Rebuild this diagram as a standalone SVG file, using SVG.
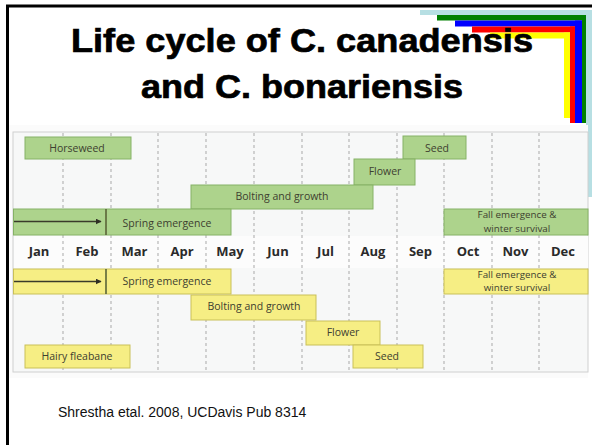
<svg xmlns="http://www.w3.org/2000/svg" width="592" height="445" viewBox="0 0 592 445">
<defs>
<style>
.title{font-family:"Liberation Sans",Arial,sans-serif;font-weight:bold;font-size:33px;fill:#000;stroke:#000;stroke-width:0.7;text-anchor:middle}
.mon{font-family:"Open Sans","Noto Sans",sans-serif;font-weight:bold;font-size:13px;fill:#2a2a2a;text-anchor:middle}
.lbl{font-family:"Open Sans","Noto Sans",sans-serif;font-size:10.5px;fill:#3d4030;text-anchor:middle}
.lbl2{font-family:"Open Sans","Noto Sans",sans-serif;font-size:9.8px;fill:#3d4030;text-anchor:middle}
.g{fill:#add38c;stroke:#86b266;stroke-width:1}
.y{fill:#f6ee84;stroke:#c9c058;stroke-width:1}
.grid{stroke:#a9a9a9;stroke-width:1;stroke-dasharray:3 3}
.div{stroke:#5b6438;stroke-width:1.6}
.arr{stroke:#3a3a2a;stroke-width:1.3;fill:none}
.cap{font-family:"Liberation Sans",Arial,sans-serif;font-size:14px;fill:#111}
</style>
<marker id="ah" viewBox="0 0 10 10" refX="9" refY="5" markerWidth="6" markerHeight="6" orient="auto" markerUnits="userSpaceOnUse">
<path d="M0,0 L10,5 L0,10 z" fill="#2f2f24"/>
</marker>
</defs>
<rect x="0" y="0" width="592" height="445" fill="#fff"/>
<g id="corner">
<rect x="420" y="10" width="172" height="5" fill="#b7dfe3"/>
<rect x="586" y="10" width="6" height="187" fill="#b7dfe3"/>
<rect x="437" y="15" width="149" height="5.5" fill="#008000"/>
<rect x="582" y="15" width="4" height="108" fill="#008000"/>
<rect x="455" y="20.5" width="127" height="6" fill="#0000ff"/>
<rect x="575" y="20.5" width="7" height="102.5" fill="#0000ff"/>
<rect x="472" y="26.5" width="103" height="6" fill="#ff0000"/>
<rect x="570" y="26.5" width="5" height="96.5" fill="#ff0000"/>
<rect x="490" y="32.5" width="80" height="6" fill="#ffff00"/>
<rect x="564" y="32.5" width="6" height="85.5" fill="#ffff00"/>
</g>
<path d="M7.5,445 V6 H592" fill="none" stroke="#000" stroke-width="3"/>
<g id="title">
<text class="title" x="302" y="52" textLength="462" lengthAdjust="spacingAndGlyphs">Life cycle of C. canadensis</text>
<text class="title" x="302" y="98" textLength="322" lengthAdjust="spacingAndGlyphs">and C. bonariensis</text>
</g>
<rect x="9" y="125" width="579" height="253" fill="#fbfbfb"/>
<rect x="13" y="132" width="575" height="240" fill="#f7f8f8" stroke="#cfd0d0" stroke-width="1"/>
<rect x="14" y="236" width="574" height="32" fill="#fcfcfc"/>
<g id="grid">
<line class="grid" x1="63" y1="133" x2="63" y2="371"/>
<line class="grid" x1="111" y1="133" x2="111" y2="371"/>
<line class="grid" x1="158" y1="133" x2="158" y2="371"/>
<line class="grid" x1="206" y1="133" x2="206" y2="371"/>
<line class="grid" x1="254" y1="133" x2="254" y2="371"/>
<line class="grid" x1="302" y1="133" x2="302" y2="371"/>
<line class="grid" x1="349" y1="133" x2="349" y2="371"/>
<line class="grid" x1="397" y1="133" x2="397" y2="371"/>
<line class="grid" x1="444" y1="133" x2="444" y2="371"/>
<line class="grid" x1="492" y1="133" x2="492" y2="371"/>
<line class="grid" x1="539" y1="133" x2="539" y2="371"/>
</g>
<g id="months">
<text class="mon" x="39" y="256">Jan</text>
<text class="mon" x="87" y="256">Feb</text>
<text class="mon" x="134.5" y="256">Mar</text>
<text class="mon" x="182" y="256">Apr</text>
<text class="mon" x="230" y="256">May</text>
<text class="mon" x="278" y="256">Jun</text>
<text class="mon" x="325.5" y="256">Jul</text>
<text class="mon" x="373" y="256">Aug</text>
<text class="mon" x="420.5" y="256">Sep</text>
<text class="mon" x="468" y="256">Oct</text>
<text class="mon" x="515.5" y="256">Nov</text>
<text class="mon" x="563" y="256">Dec</text>
</g>
<g id="g-horseweed"><rect class="g" x="25" y="137" width="106" height="22"/><text class="lbl" x="77" y="152">Horseweed</text></g>
<g id="g-seed"><rect class="g" x="403" y="136" width="63" height="23"/><text class="lbl" x="437" y="152">Seed</text></g>
<g id="g-flower"><rect class="g" x="354" y="159" width="61" height="26"/><text class="lbl" x="385" y="175">Flower</text></g>
<g id="g-bolting"><rect class="g" x="191" y="185" width="182" height="24"/><text class="lbl" x="282" y="200">Bolting and growth</text></g>
<g id="g-spring"><rect class="g" x="13.5" y="209" width="217.5" height="26"/><line class="div" x1="106" y1="209" x2="106" y2="235"/><text class="lbl" x="167" y="227">Spring emergence</text></g>
<g id="g-fall"><rect class="g" x="444" y="209" width="144" height="26"/><text class="lbl2" x="517" y="218.3">Fall emergence &amp;</text><text class="lbl2" x="517" y="231.8">winter survival</text></g>
<g id="y-spring"><rect class="y" x="13.5" y="269" width="217.5" height="25"/><line class="div" x1="106" y1="269" x2="106" y2="294"/><text class="lbl" x="167" y="285">Spring emergence</text></g>
<g id="y-fall"><rect class="y" x="444" y="269" width="144" height="25"/><text class="lbl2" x="517" y="277.8">Fall emergence &amp;</text><text class="lbl2" x="517" y="291.3">winter survival</text></g>
<g id="y-bolting"><rect class="y" x="191" y="295" width="125" height="25"/><text class="lbl" x="254" y="310">Bolting and growth</text></g>
<g id="y-flower"><rect class="y" x="306" y="321" width="74" height="24"/><text class="lbl" x="343" y="336">Flower</text></g>
<g id="y-seed"><rect class="y" x="353" y="345" width="70" height="23"/><text class="lbl" x="387" y="360">Seed</text></g>
<g id="y-hairy"><rect class="y" x="25" y="345" width="105" height="23"/><text class="lbl" x="77" y="360">Hairy fleabane</text></g>
<g id="connectors">
<line class="arr" x1="14" y1="221.5" x2="101" y2="221.5" marker-end="url(#ah)"/>
<line class="arr" x1="14" y1="281.5" x2="101" y2="281.5" marker-end="url(#ah)"/>
</g>
<text class="cap" x="58" y="417">Shrestha etal. 2008, UCDavis Pub 8314</text>
</svg>
